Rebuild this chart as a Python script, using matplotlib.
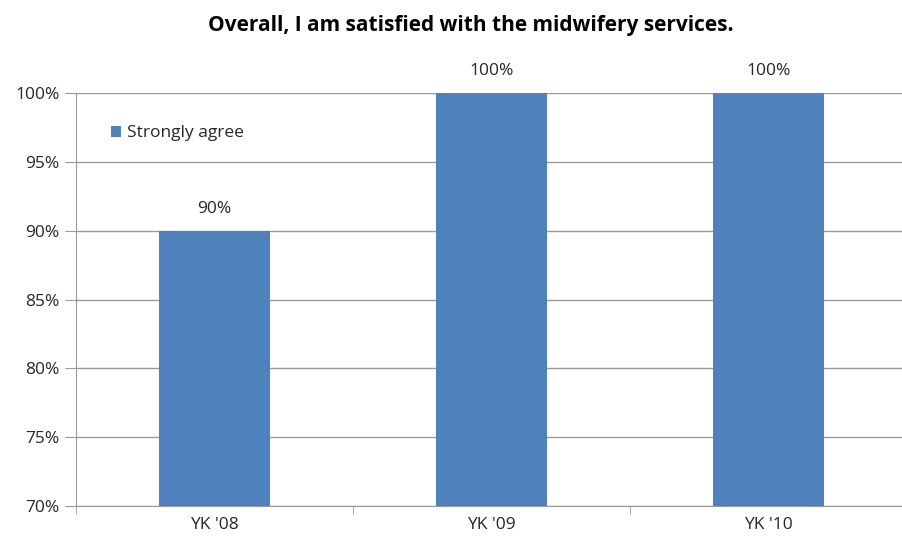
import numpy as np
import matplotlib.pyplot as plt
from matplotlib.ticker import PercentFormatter, FixedLocator

# dados do grafico #
categorias = ["YK '08", "YK '09", "YK '10"]
valores = [90, 100, 100]
serie = "Strongly agree"
titulo = "Overall, I am satisfied with the midwifery services."

plt.rcParams['font.family'] = ['Open Sans', 'DejaVu Sans']

fig = plt.figure(figsize=(9.03, 5.42), dpi=100)
ax = fig.add_axes([76 / 903, 36 / 542, 831 / 903, 413 / 542])

x = np.arange(len(categorias))
ax.bar(x, valores, width=0.4, color='#4F81BD', label=serie, zorder=3)

ax.set_ylim(70, 100)
ax.set_xlim(-0.5, len(categorias) - 0.5)
ax.set_yticks(np.arange(70, 101, 5))
ax.yaxis.set_major_formatter(PercentFormatter(decimals=0))
ax.set_xticks(x)
ax.set_xticklabels(categorias)
ax.xaxis.set_minor_locator(FixedLocator(np.arange(-0.5, len(categorias), 1)))

ax.grid(axis='y', color='#9a9a9a', linewidth=1, zorder=0)
for lado in ['top', 'right']:
    ax.spines[lado].set_visible(False)
for lado in ['left', 'bottom']:
    ax.spines[lado].set_color('#9a9a9a')

ax.tick_params(axis='y', length=8, colors='#9a9a9a', labelcolor='#262626', labelsize=12.5, pad=4)
ax.tick_params(axis='x', which='major', length=0, labelsize=12.5, labelcolor='#262626', pad=8)
ax.tick_params(axis='x', which='minor', length=6, color='#9a9a9a')

# rotulos das barras #
for xi, v in zip(x, valores):
    ax.annotate(f"{v}%", (xi, v), xytext=(0, 10), textcoords='offset points',
                ha='center', va='bottom', fontsize=12.5, color='#262626', annotation_clip=False)

ax.legend(loc='upper left', bbox_to_anchor=(0.023, 0.96), frameon=False, fontsize=12.5,
          handlelength=0.6, handleheight=0.6, handletextpad=0.35, labelcolor='#262626')

fig.text(471 / 903, 1 - 25 / 542, titulo, ha='center', va='center', fontsize=15,
         fontweight='bold', color='black')

fig.savefig("out.png", dpi=100)
